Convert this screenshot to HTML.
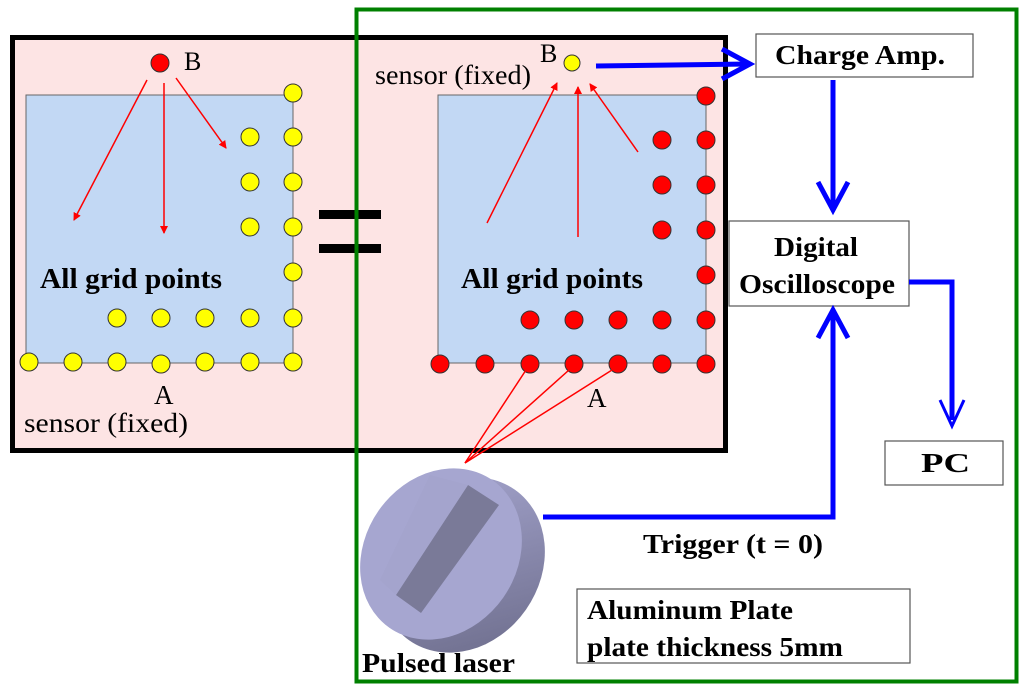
<!DOCTYPE html>
<html><head><meta charset="utf-8"><style>
html,body{margin:0;padding:0;background:#fff;}
svg{display:block;}
.s{font-family:"Liberation Serif",serif;}
.b{font-family:"Liberation Serif",serif;font-weight:bold;}
</style></head><body>
<svg width="1024" height="690" viewBox="0 0 1024 690" xmlns="http://www.w3.org/2000/svg">
<defs>
<marker id="ra" markerWidth="8" markerHeight="8" refX="7" refY="4" orient="auto" markerUnits="userSpaceOnUse"><path d="M0,0 L8,4 L0,8 z" fill="#f00"/></marker>
<linearGradient id="cyl" x1="0" y1="0" x2="1" y2="1"><stop offset="0" stop-color="#a8a8d2"/><stop offset="1" stop-color="#6a6a88"/></linearGradient>
</defs>
<rect x="12.5" y="37.5" width="713" height="413" fill="#fde4e4" stroke="#000" stroke-width="5"/>
<rect x="26" y="95" width="267" height="268" fill="#c2d8f4" stroke="#666" stroke-width="1"/>
<rect x="438" y="95" width="268" height="268" fill="#c2d8f4" stroke="#666" stroke-width="1"/>
<rect x="319" y="210" width="62" height="9" fill="#000"/>
<rect x="319" y="244" width="62" height="9" fill="#000"/>
<rect x="356.5" y="9.5" width="660" height="672" fill="none" stroke="#008000" stroke-width="4"/>
<g fill="#ffff00" stroke="#333" stroke-width="1">
<circle cx="293" cy="93" r="9"/><circle cx="293" cy="137" r="9"/><circle cx="293" cy="182" r="9"/><circle cx="293" cy="227" r="9"/><circle cx="293" cy="272" r="9"/><circle cx="293" cy="318" r="9"/><circle cx="293" cy="362" r="9"/>
<circle cx="250" cy="137" r="9"/><circle cx="250" cy="182" r="9"/><circle cx="250" cy="227" r="9"/><circle cx="250" cy="318" r="9"/><circle cx="250" cy="362" r="9"/>
<circle cx="117" cy="318" r="9"/><circle cx="161" cy="318" r="9"/><circle cx="205" cy="318" r="9"/>
<circle cx="29" cy="362" r="9"/><circle cx="73" cy="362" r="9"/><circle cx="117" cy="362" r="9"/><circle cx="161" cy="364" r="9"/><circle cx="205" cy="362" r="9"/>
<circle cx="572" cy="63" r="8"/>
</g>
<circle cx="160" cy="63" r="9" fill="#f00" stroke="#333"/>
<g fill="#f00" stroke="#333" stroke-width="1">
<circle cx="706" cy="96" r="9"/><circle cx="706" cy="140" r="9"/><circle cx="706" cy="185" r="9"/><circle cx="706" cy="230" r="9"/><circle cx="706" cy="275" r="9"/><circle cx="706" cy="320" r="9"/><circle cx="706" cy="364" r="9"/>
<circle cx="662" cy="140" r="9"/><circle cx="662" cy="185" r="9"/><circle cx="662" cy="230" r="9"/><circle cx="662" cy="320" r="9"/><circle cx="662" cy="364" r="9"/>
<circle cx="530" cy="320" r="9"/><circle cx="574" cy="320" r="9"/><circle cx="618" cy="320" r="9"/>
<circle cx="440" cy="364" r="9"/><circle cx="485" cy="364" r="9"/><circle cx="530" cy="364" r="9"/><circle cx="574" cy="364" r="9"/><circle cx="618" cy="364" r="9"/>
</g>
<g stroke="#f00" stroke-width="1.5" fill="none" marker-end="url(#ra)">
<line x1="147" y1="80" x2="74" y2="220"/>
<line x1="164" y1="83" x2="164" y2="233"/>
<line x1="176" y1="78" x2="226" y2="148"/>
<line x1="487" y1="223" x2="557" y2="83"/>
<line x1="578" y1="237" x2="578" y2="87"/>
<line x1="638" y1="152" x2="590" y2="84"/>
</g>
<g stroke="#f00" stroke-width="1.5">
<line x1="465" y1="463" x2="526" y2="370"/>
<line x1="465" y1="463" x2="569" y2="370"/>
<line x1="465" y1="463" x2="612" y2="370"/>
</g>
<text x="184" y="70" class="s" font-size="26">B</text>
<text x="40" y="288" class="b" font-size="29" textLength="182" lengthAdjust="spacingAndGlyphs">All grid points</text>
<text x="154" y="404" class="s" font-size="27">A</text>
<text x="24" y="432" class="s" font-size="27" textLength="164" lengthAdjust="spacingAndGlyphs">sensor (fixed)</text>
<text x="375" y="84" class="s" font-size="27" textLength="156" lengthAdjust="spacingAndGlyphs">sensor (fixed)</text>
<text x="540" y="62" class="s" font-size="26">B</text>
<text x="461" y="288" class="b" font-size="29" textLength="182" lengthAdjust="spacingAndGlyphs">All grid points</text>
<text x="587" y="407" class="s" font-size="27">A</text>
<g fill="#fff" stroke="#555" stroke-width="1.2">
<rect x="756" y="34" width="217" height="43"/>
<rect x="729" y="221" width="180" height="85"/>
<rect x="885" y="441" width="118" height="44"/>
<rect x="577" y="589" width="333" height="74"/>
</g>
<text x="775" y="64" class="b" font-size="27" textLength="170" lengthAdjust="spacingAndGlyphs">Charge Amp.</text>
<text x="774" y="256" class="b" font-size="27" textLength="84" lengthAdjust="spacingAndGlyphs">Digital</text>
<text x="739" y="293" class="b" font-size="27" textLength="156" lengthAdjust="spacingAndGlyphs">Oscilloscope</text>
<text x="921" y="472" class="b" font-size="27" textLength="49" lengthAdjust="spacingAndGlyphs">PC</text>
<text x="587" y="619" class="b" font-size="27" textLength="206" lengthAdjust="spacingAndGlyphs">Aluminum Plate</text>
<text x="587" y="656" class="b" font-size="27" textLength="256" lengthAdjust="spacingAndGlyphs">plate thickness 5mm</text>
<text x="643" y="553" class="b" font-size="27" textLength="180" lengthAdjust="spacingAndGlyphs">Trigger (t = 0)</text>
<text x="362" y="672" class="b" font-size="27" textLength="153" lengthAdjust="spacingAndGlyphs">Pulsed laser</text>
<g stroke="#0000ff" stroke-width="5" fill="none">
<line x1="596" y1="66" x2="748" y2="64"/>
<polyline points="722,49 750,64 722,79"/>
<line x1="833" y1="80" x2="833" y2="208"/>
<polyline points="818,182 833,210 848,182"/>
<polyline points="909,282 952,282 952,420"/>
<polyline points="543,517 833,517 833,312"/>
<polyline points="818,338 833,310 848,338"/>
</g>
<polyline points="940,400 952,426 964,400" stroke="#0000ff" stroke-width="3" fill="none"/>
<ellipse cx="462" cy="565" rx="78" ry="92" transform="rotate(35 462 565)" fill="url(#cyl)"/>
<ellipse cx="441" cy="554" rx="76" ry="90" transform="rotate(35 441 554)" fill="#a6a6d0"/>
<polygon points="468,485 499,505 421,613 396,595" fill="#7a7a98"/>
<polygon points="430,475 468,485 396,595 380,580" fill="#a3a3cc" opacity="0.6"/>
</svg>
</body></html>
